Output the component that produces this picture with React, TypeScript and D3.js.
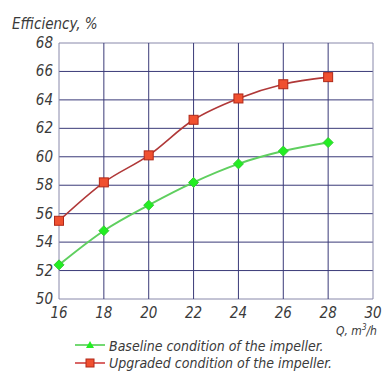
import React from 'react'
import { scaleLinear, line, curveMonotoneX } from 'd3'

const flowRates = [16, 18, 20, 22, 24, 26, 28]
const baselineEff = [52.4, 54.8, 56.6, 58.2, 59.5, 60.4, 61.0]
const upgradedEff = [55.5, 58.2, 60.1, 62.6, 64.1, 65.1, 65.6]
const xTicks = [16, 18, 20, 22, 24, 26, 28, 30]
const yTicks = [50, 52, 54, 56, 58, 60, 62, 64, 66, 68]

const font = "'DejaVu Sans Condensed', 'Liberation Sans Narrow', sans-serif"
const gridColor = '#3a3a78'
const txt = '#3a3a3a'

const App = () => {
  const width = 392
  const height = 374
  const x = scaleLinear().domain([16, 30]).range([59, 373])
  const y = scaleLinear().domain([50, 68]).range([299, 43])

  const mkLine = line<number>()
    .x((d, i) => x(flowRates[i]))
    .y(d => y(d))
    .curve(curveMonotoneX)

  const diamond = (cx: number, cy: number, r: number) =>
    `M${cx},${cy - r}L${cx + r},${cy}L${cx},${cy + r}L${cx - r},${cy}Z`

  return (
    <svg width={width} height={height} style={{ position: 'absolute', left: 0, top: 0, background: '#fff' }}>
      <text x={12} y={29} fontFamily={font} fontStyle="italic" fontSize={15} fill={txt}>Efficiency, %</text>

      {/* grid */}
      {yTicks.map(t => (
        <line key={'h' + t} x1={x(16)} x2={x(30)} y1={y(t)} y2={y(t)}
          stroke={t === 68 || t === 50 ? '#8888aa' : gridColor} strokeWidth={1} />
      ))}
      {xTicks.map(t => (
        <line key={'v' + t} x1={x(t)} x2={x(t)} y1={y(68)} y2={y(50)}
          stroke={t === 16 || t === 30 ? '#8888aa' : gridColor} strokeWidth={1} />
      ))}

      {yTicks.map(t => (
        <text key={'yl' + t} x={53} y={y(t) + 5} textAnchor="end" fontFamily={font}
          fontStyle="italic" fontSize={15} fill={txt}>{t}</text>
      ))}
      {xTicks.map(t => (
        <text key={'xl' + t} x={x(t)} y={318} textAnchor="middle" fontFamily={font}
          fontStyle="italic" fontSize={15} fill={txt}>{t}</text>
      ))}
      <text x={336} y={335} fontFamily={font} fontStyle="italic" fontSize={12} fill={txt}>
        Q, m<tspan dy={-5} fontSize={8}>3</tspan><tspan dy={5}>/h</tspan>
      </text>

      {/* series */}
      <path d={mkLine(baselineEff) || ''} fill="none" stroke="#5fcf5f" strokeWidth={2} />
      <path d={mkLine(upgradedEff) || ''} fill="none" stroke="#b03838" strokeWidth={1.6} />
      {baselineEff.map((v, i) => (
        <path key={'g' + i} d={diamond(x(flowRates[i]), y(v), 5)} fill="#22ee22" stroke="#33cc33" strokeWidth={1} />
      ))}
      {upgradedEff.map((v, i) => (
        <rect key={'r' + i} x={x(flowRates[i]) - 4.5} y={y(v) - 4.5} width={9} height={9}
          fill="#f05030" stroke="#b02818" strokeWidth={1} />
      ))}

      {/* legend */}
      <line x1={75} x2={105} y1={345} y2={345} stroke="#44cc44" strokeWidth={1.5} />
      <path d={`M90,341L94,348L86,348Z`} fill="#22ee22" />
      <text x={109} y={351} fontFamily={font} fontStyle="italic" fontSize={14} fill={txt}>
        Baseline condition of the impeller.
      </text>
      <line x1={75} x2={105} y1={363} y2={363} stroke="#cc3333" strokeWidth={1.5} />
      <rect x={86} y={359} width={8} height={8} fill="#f05030" stroke="#b02818" />
      <text x={109} y={368} fontFamily={font} fontStyle="italic" fontSize={14} fill={txt}>
        Upgraded condition of the impeller.
      </text>
    </svg>
  )
}

export default App
